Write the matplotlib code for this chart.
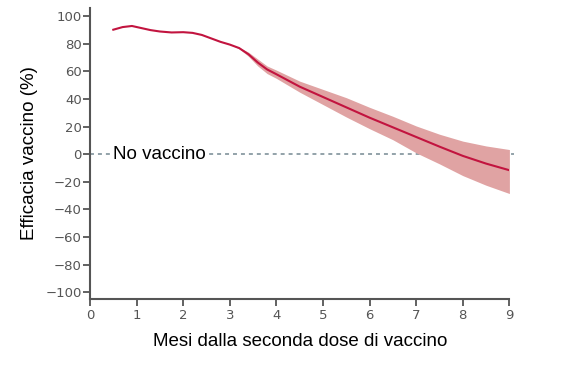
import matplotlib
matplotlib.use("Agg")
import matplotlib.pyplot as plt
import numpy as np

months = [0.5, 0.7, 0.9, 1.1, 1.3, 1.5, 1.75, 2.0, 2.2, 2.4, 2.6, 2.8, 3.0, 3.2, 3.4, 3.6, 3.8, 4.0, 4.5, 5.0, 5.5, 6.0, 6.5, 7.0, 7.5, 8.0, 8.5, 9.0]
efficacy = [90.3, 92.2, 93.0, 91.5, 90.0, 89.0, 88.3, 88.5, 88.0, 86.5, 84.0, 81.5, 79.5, 77.0, 72.5, 66.5, 61.5, 58.0, 49.0, 41.5, 34.0, 26.5, 19.5, 12.5, 5.5, -1.2, -6.8, -11.6]
upper = [90.3, 92.2, 93.0, 91.5, 90.0, 89.0, 88.3, 88.5, 88.0, 86.5, 84.0, 81.5, 79.5, 77.5, 74.0, 69.0, 64.0, 61.0, 53.0, 47.0, 41.0, 34.0, 27.5, 20.5, 14.5, 9.5, 6.0, 3.4]
lower = [90.3, 92.2, 93.0, 91.5, 90.0, 89.0, 88.3, 88.5, 88.0, 86.5, 84.0, 81.5, 79.5, 76.5, 71.0, 64.0, 58.5, 55.0, 45.0, 36.0, 27.0, 18.5, 10.5, 1.0, -7.0, -15.5, -22.5, -28.5]

xticks = [0, 1, 2, 3, 4, 5, 6, 7, 8, 9]
yticks = [100, 80, 60, 40, 20, 0, -20, -40, -60, -80, -100]

fig = plt.figure(figsize=(5.66, 3.66), dpi=100)
ax = fig.add_axes([0.159, 0.183, 0.741, 0.795])

ax.fill_between(months, lower, upper, color="#e0a3a3", lw=0, zorder=2)
ax.plot(months, efficacy, color="#c2143f", lw=1.5, zorder=3)

ax.plot([0, 9.1], [0, 0], ls=(0, (2.2, 2.2)), color="#8a9ba3", lw=1.3, zorder=1, clip_on=False)
ax.text(0.5, 0, "No vaccino", fontsize=13.5, family="Liberation Sans", va="center", ha="left",
        color="black", zorder=4, bbox=dict(facecolor="white", edgecolor="none", pad=2))

ax.set_xlim(0, 9)
ax.set_ylim(-105, 106)
ax.set_xticks(xticks)
ax.set_yticks(yticks)
ax.set_yticklabels([str(v).replace("-", "\u2212") for v in yticks])

for s in ["top", "right"]:
    ax.spines[s].set_visible(False)
for s in ["left", "bottom"]:
    ax.spines[s].set_color("#555555")
    ax.spines[s].set_linewidth(1.5)
ax.tick_params(axis="both", colors="#555555", labelcolor="#555555", labelsize=9.5, width=1.3, length=5)
ax.tick_params(axis="x", pad=2)
ax.tick_params(axis="y", pad=1)

ax.set_xlabel("Mesi dalla seconda dose di vaccino", fontsize=13.5, family="Liberation Sans", labelpad=8)
ax.set_ylabel("Efficacia vaccino (%)", fontsize=13.5, family="Liberation Sans", labelpad=5)

fig.savefig("out.png", dpi=100)
